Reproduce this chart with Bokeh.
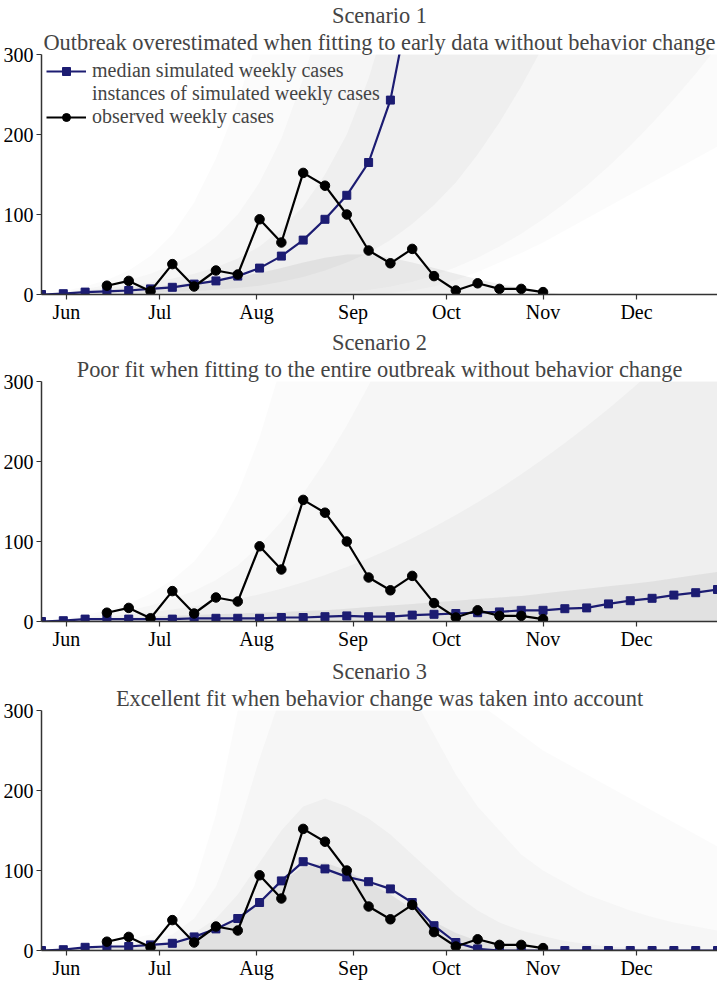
import pandas as pd
from bokeh.plotting import figure
from bokeh.layouts import column, Spacer
from bokeh.models import (Title, DatetimeTickFormatter, MonthsTicker, FixedTicker,
                          Range1d, Legend, LegendItem)
from bokeh.embed import file_html
from bokeh.resources import INLINE

# ---------------- data ----------------
weeks = pd.date_range("2014-05-24", periods=32, freq="7D")   # May 24 ... Dec 27
obs_dates = weeks[3:24]                                       # Jun 14 ... Nov 1

observed = [11, 17, 4, 38, 10, 30, 25, 94, 65, 152, 136, 100, 55, 39, 57, 23, 5, 14, 7, 7, 3]

median_s1 = [0, 1, 3, 4, 5, 7, 9, 13, 17, 23, 33, 48, 68, 94, 124, 165, 243, 382]
median_s2 = [0, 1, 3, 3, 3, 3, 3, 4, 4, 4, 4, 5, 5, 6, 7, 6, 6, 8, 9, 10, 11, 12, 14, 14,
             16, 17, 22, 26, 29, 33, 36, 40]
median_s3 = [0, 1, 4, 5, 5, 7, 9, 17, 27, 40, 60, 87, 111, 102, 92, 86, 77, 60, 31, 10, 2,
             0, 0, 0, 0, 0, 0, 0, 0, 0, 0, 0]

zeros = [0, 0, 0, 0, 0, 0, 0, 0, 0, 0, 0, 0, 0, 0, 0, 0, 0, 0, 0, 0, 0, 0, 0, 0, 0, 0, 0, 0, 0, 0, 0, 0]

# spread of the simulated instances (read from the grey cloud), scenario 1
s1_b4_lo = [0, 0, 0, 0, 0, 0, 0, 0, 0, 0, 0, 0, 0, 0, 0, 0, 2, 5, 10, 18, 28, 40, 52, 65, 80, 95,
            110, 125, 140, 155, 170, 185]
s1_b4_hi = [0, 4, 10, 18, 30, 48, 75, 115, 170, 240, 330, 400, 400, 400, 400, 400, 400, 400, 400,
            400, 400, 400, 400, 400, 400, 400, 400, 400, 400, 400, 400, 400]
s1_b3_lo = [0, 0, 0, 0, 0, 0, 0, 0, 0, 0, 0, 0, 0, 1, 3, 6, 10, 16, 24, 34, 46, 60, 76, 94, 114,
            136, 160, 186, 214, 244, 276, 310]
s1_b3_hi = [0, 3, 7, 12, 18, 26, 37, 52, 72, 100, 140, 195, 270, 360, 400, 400, 400, 400, 400,
            400, 400, 400, 400, 400, 400, 400, 400, 400, 400, 400, 400, 400]
s1_b2_lo = [0, 0, 0, 1, 1, 2, 3, 4, 6, 8, 11, 16, 22, 30, 40, 52, 68, 88, 112, 140, 175, 215, 260,
            310, 360, 400, 400, 400, 400, 400, 400, 400]
s1_b2_hi = [0, 2, 5, 8, 11, 15, 20, 26, 34, 45, 60, 82, 110, 150, 200, 270, 360, 400, 400, 400,
            400, 400, 400, 400, 400, 400, 400, 400, 400, 400, 400, 400]
s1_b1_hi = [0, 1.5, 4, 6, 8, 10, 12, 15, 18, 22, 27, 33, 40, 46, 50, 50, 46, 40, 33, 26, 19, 13,
            8, 3, 0, 0, 0, 0, 0, 0, 0, 0]

# scenario 2
s2_b4_hi = [0, 3, 8, 14, 22, 35, 52, 75, 110, 160, 230, 320, 400, 400, 400, 400, 400, 400, 400,
            400, 400, 400, 400, 400, 400, 400, 400, 400, 400, 400, 400, 400]
s2_b3_hi = [0, 2, 5, 9, 14, 20, 28, 38, 52, 70, 95, 125, 160, 200, 245, 295, 350, 400, 400, 400,
            400, 400, 400, 400, 400, 400, 400, 400, 400, 400, 400, 400]
s2_b2_hi = [0, 1.5, 4, 6, 9, 12, 15, 19, 23, 28, 34, 41, 49, 58, 68, 79, 91, 104, 118, 133, 149,
            166, 184, 203, 223, 244, 266, 289, 313, 338, 364, 390]
s2_b1_hi = [0, 1, 3, 4, 5, 6, 7, 8, 9, 10, 11, 12, 13, 14, 16, 18, 20, 22, 24, 26, 28, 30, 32, 35,
            38, 41, 44, 47, 50, 54, 58, 62]

# scenario 3
s3_b4_hi = [0, 2, 5, 9, 14, 20, 35, 80, 170, 300, 400, 400, 400, 400, 400, 400, 400, 380, 350, 330,
            310, 290, 270, 250, 235, 220, 205, 190, 175, 160, 145, 130]
s3_b3_hi = [0, 2, 4, 7, 10, 14, 20, 40, 80, 150, 240, 320, 380, 400, 400, 390, 360, 320, 270, 220,
            180, 150, 120, 100, 85, 70, 60, 50, 42, 35, 30, 25]
s3_b2_hi = [0, 1.5, 3, 5, 7, 9, 12, 22, 40, 70, 110, 150, 180, 190, 180, 165, 145, 120, 95, 70, 50,
            35, 25, 18, 12, 8, 5, 3, 2, 1, 0, 0]
s3_b1_hi = [0, 1, 2.5, 4, 5, 7, 9, 15, 25, 40, 60, 85, 105, 110, 100, 85, 70, 52, 36, 22, 12, 6, 3,
            1, 0, 0, 0, 0, 0, 0, 0, 0]

y_ticks = [0, 100, 200, 300]
titles = ["Scenario 1", "Scenario 2", "Scenario 3"]
subtitles = ["Outbreak overestimated when fitting to early data without behavior change",
             "Poor fit when fitting to the entire outbreak without behavior change",
             "Excellent fit when behavior change was taken into account"]
legend_labels = ["median simulated weekly cases", "instances of simulated weekly cases",
                 "observed weekly cases"]

# ---------------- style ----------------
FONT = "Liberation Serif"
NAVY = "#1c1c72"
CLOUD = "#707070"
AXIS = "#333333"


def make_panel(idx, median, bands, legend=False):
    p = figure(frame_width=676, frame_height=240, x_axis_type="datetime",
               x_range=Range1d(weeks[0], weeks[-1]), y_range=Range1d(0, 300),
               output_backend="svg", toolbar_location=None,
               min_border_top=0, min_border_bottom=0,
               min_border_left=0, min_border_right=0)
    p.outline_line_color = None
    p.grid.visible = False
    p.background_fill_color = "white"

    p.add_layout(Title(text=subtitles[idx], text_font=FONT, text_font_size="22.4px",
                       text_font_style="normal", align="center", standoff=0), "above")
    p.add_layout(Title(text=titles[idx], text_font=FONT, text_font_size="22.4px",
                       text_font_style="normal", align="center", standoff=0), "above")

    alphas = [0.03, 0.035, 0.05, 0.1]
    for (lo, hi), a in zip(bands, alphas):
        p.varea(x=weeks, y1=lo, y2=hi, fill_color=CLOUD, fill_alpha=a)

    inst = p.line(x=[], y=[], line_color="#a8a8a8", line_width=1)

    mx = weeks[:len(median)]
    ml = p.line(x=mx, y=median, line_color=NAVY, line_width=2.2)
    ms = p.scatter(x=mx, y=median, marker="square", size=8, fill_color=NAVY,
                   line_color=NAVY)
    ol = p.line(x=obs_dates, y=observed, line_color="black", line_width=2.2)
    os_ = p.scatter(x=obs_dates, y=observed, marker="circle", size=9.5,
                    fill_color="black", line_color="black")

    p.xaxis.ticker = MonthsTicker(months=list(range(12)))
    p.xaxis.formatter = DatetimeTickFormatter(months="%b", days="%b", years="%b")
    p.yaxis.ticker = FixedTicker(ticks=y_ticks)
    for ax in (p.xaxis, p.yaxis):
        ax.axis_line_color = AXIS
        ax.axis_line_width = 1.5
        ax.major_tick_line_color = AXIS
        ax.major_tick_line_width = 1.2
        ax.major_tick_out = 5
        ax.major_tick_in = 0
        ax.minor_tick_line_color = None
        ax.major_label_text_font = FONT
        ax.major_label_text_font_size = "20px"
        ax.major_label_text_color = "black"
        ax.axis_label_standoff = 0
    p.xaxis.major_label_standoff = 1
    p.yaxis.major_label_standoff = 3

    if legend:
        lg = Legend(items=[LegendItem(label=legend_labels[0], renderers=[ml, ms]),
                           LegendItem(label=legend_labels[1], renderers=[inst]),
                           LegendItem(label=legend_labels[2], renderers=[ol, os_])],
                    location="top_left", label_text_font=FONT,
                    label_text_font_size="20px", background_fill_alpha=0,
                    border_line_alpha=0, glyph_width=40, glyph_height=20,
                    label_height=20, spacing=0, padding=2, margin=3,
                    label_standoff=6)
        p.add_layout(lg)
    return p


p1 = make_panel(0, median_s1,
                [(s1_b4_lo, s1_b4_hi), (s1_b3_lo, s1_b3_hi), (s1_b2_lo, s1_b2_hi),
                 (zeros, s1_b1_hi)], legend=True)
p2 = make_panel(1, median_s2,
                [(zeros, s2_b4_hi), (zeros, s2_b3_hi), (zeros, s2_b2_hi), (zeros, s2_b1_hi)])
p3 = make_panel(2, median_s3,
                [(zeros, s3_b4_hi), (zeros, s3_b3_hi), (zeros, s3_b2_hi), (zeros, s3_b1_hi)])

layout = column(p1, Spacer(height=2), p2, Spacer(height=4), p3, spacing=0)
open("out.html", "w").write(file_html(layout, INLINE))
